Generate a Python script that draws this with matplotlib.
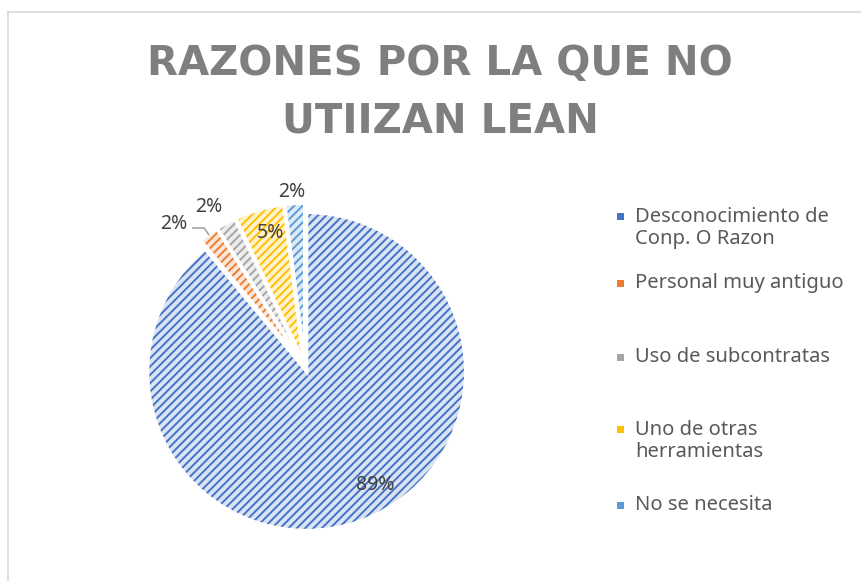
import numpy as np
import matplotlib
matplotlib.use("Agg")
import matplotlib.pyplot as plt
from matplotlib.lines import Line2D
from matplotlib.patches import Rectangle, Wedge

# datos de la encuesta
razones = ["Desconocimiento de\nConp. O Razon", "Personal muy antiguo",
           "Uso de subcontratas", "Uno de otras\nherramientas", "No se necesita"]
porcentajes = [89, 2, 2, 5, 2]
etiquetas = ["89%", "2%", "2%", "5%", "2%"]

colores = ["#4472C4", "#ED7D31", "#A5A5A5", "#FFC000", "#5B9BD5"]
fondos = ["#DAE3F3", "#FBE5D6", "#EDEDED", "#FFF2CC", "#DEEBF7"]

plt.rcParams["font.family"] = ["Noto Sans", "DejaVu Sans"]
plt.rcParams["hatch.linewidth"] = 1.4

W, H = 861, 581
fig = plt.figure(figsize=(W / 100, H / 100), dpi=100)

# marco del grafico (solo se ve arriba y a la izquierda)
fig.add_artist(Line2D([8 / W, 8 / W], [0, 1 - 12 / H], color="#D9D9D9", lw=1.2))
fig.add_artist(Line2D([8 / W, 1], [1 - 12 / H, 1 - 12 / H], color="#D9D9D9", lw=1.2))

# titulo
fig.text(440 / W, 1 - 93 / H, "RAZONES POR LA QUE NO\nUTIIZAN LEAN", ha="center", va="center",
         fontsize=29, fontweight="bold", color="#7F7F7F", linespacing=1.55,
         family="DejaVu Sans")

# pastel
ax = fig.add_axes([130 / W, 39 / H, 350 / W, 350 / H])
wedges, _ = ax.pie(porcentajes, startangle=90, counterclock=False,
                   explode=[0.03] * len(porcentajes), colors=fondos,
                   wedgeprops=dict(linewidth=0))
for w, c in zip(wedges, colores):
    w.set_hatch("////")
    w.set_edgecolor(c)
    # borde blanco que separa las porciones
    ax.add_patch(Wedge(w.center, w.r, w.theta1, w.theta2, facecolor="none",
                       edgecolor="white", lw=2.5))
ax.set_xlim(-1.1, 1.1)
ax.set_ylim(-1.1, 1.1)
ax.set_aspect("equal")
ax.axis("off")

# etiquetas de porcentaje
dist = [0.86, 1.22, 1.17, 0.87, 1.10]
giro = [11, 6.5, 2.2, -1.6, 0.6]
for i, w in enumerate(wedges):
    mid = (w.theta1 + w.theta2) / 2
    a = np.deg2rad(mid + giro[i])
    ax.text(dist[i] * np.cos(a), dist[i] * np.sin(a), etiquetas[i], ha="center", va="center",
            fontsize=14, color="#404040")

# linea guia para "Personal muy antiguo"
w = wedges[1]
mid = np.deg2rad((w.theta1 + w.theta2) / 2)
cx, cy = w.center
p0 = (cx + 1.0 * np.cos(mid), cy + 1.0 * np.sin(mid))
p1 = (1.08 * np.cos(mid), 1.08 * np.sin(mid))
p2 = (p1[0] - 0.07, p1[1])
ax.plot([p0[0], p1[0], p2[0]], [p0[1], p1[1], p2[1]], color="#A6A6A6", lw=1.2)

# leyenda
ley_y = [228, 283, 357, 441, 505]
for txt, c, y in zip(razones, colores, ley_y):
    top = y - (11.5 if "\n" in txt else 0)
    fig.add_artist(Rectangle(((620 - 3.5) / W, 1 - (top - 3.5) / H),
                             7 / W, -7 / H, facecolor=c, edgecolor="none"))
    fig.text(635 / W, 1 - y / H, txt, ha="left", va="center", fontsize=14.5,
             color="#595959", linespacing=1.15)

fig.savefig("out.png", dpi=100)
